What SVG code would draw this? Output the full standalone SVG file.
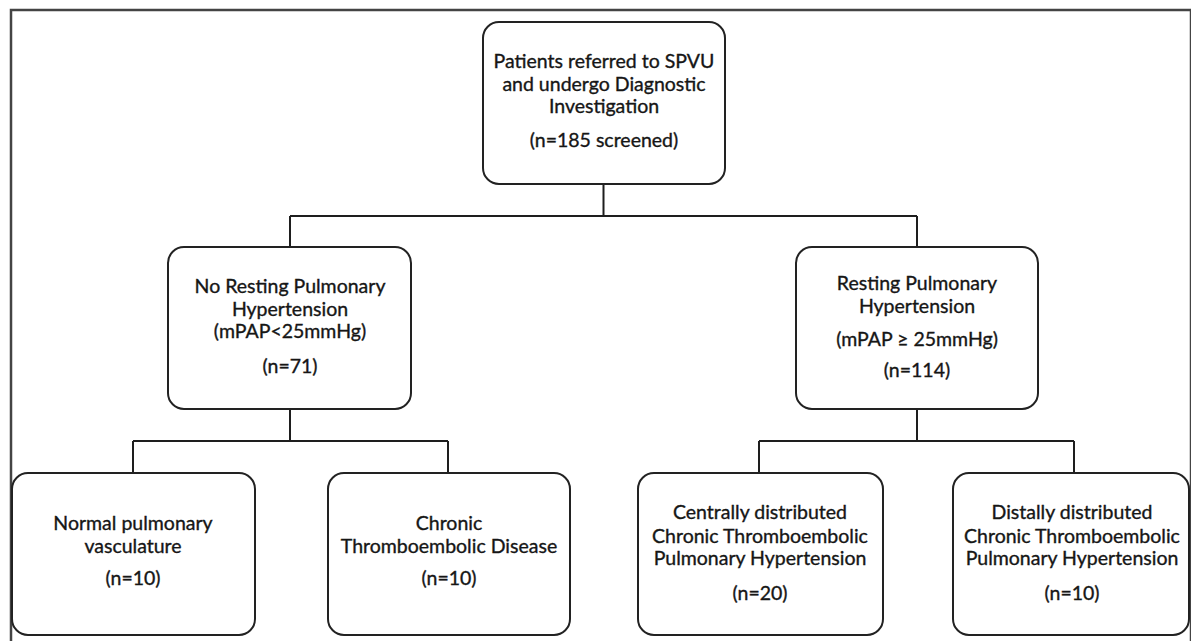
<svg xmlns="http://www.w3.org/2000/svg" width="1191" height="641" viewBox="0 0 1191 641">
  <style>
    .box { fill: #ffffff; stroke: #222222; stroke-width: 2; }
    .conn { fill: none; stroke: #1e1e1e; stroke-width: 2; }
    .t { font-family: Lato, "Liberation Sans", sans-serif; font-size: 19.5px; fill: #161616; stroke: #161616; stroke-width: 0.35; text-anchor: middle; }
  </style>
  <rect x="0" y="0" width="1191" height="641" fill="#ffffff"/>
  <rect id="frame" x="11" y="10" width="1180" height="640" fill="none" stroke="#444444" stroke-width="2.5"/>

  <g id="connectors">
    <path class="conn" d="M603.5,184 V216 M290,216 H917 M290,216 V247 M917,216 V247"/>
    <path class="conn" d="M290,409 V441 M133,441 H448 M133,441 V473 M448,441 V473"/>
    <path class="conn" d="M917,409 V441 M759,441 H1074 M759,441 V473 M1074,441 V473"/>
  </g>

  <g id="n-top">
    <rect class="box" x="483" y="22" width="242" height="162" rx="16"/>
    <text class="t" x="604" y="68">Patients referred to SPVU</text>
    <text class="t" x="604" y="91">and undergo Diagnostic</text>
    <text class="t" x="604" y="113">Investigation</text>
    <text class="t" x="604" y="147">(n=185 screened)</text>
  </g>

  <g id="n-no-rest">
    <rect class="box" x="168" y="247" width="243" height="162" rx="16"/>
    <text class="t" x="290" y="293">No Resting Pulmonary</text>
    <text class="t" x="290" y="316">Hypertension</text>
    <text class="t" x="290" y="338">(mPAP&lt;25mmHg)</text>
    <text class="t" x="290" y="373">(n=71)</text>
  </g>

  <g id="n-rest">
    <rect class="box" x="796" y="247" width="242" height="162" rx="16"/>
    <text class="t" x="917" y="290">Resting Pulmonary</text>
    <text class="t" x="917" y="313">Hypertension</text>
    <text class="t" x="917" y="346">(mPAP ≥ 25mmHg)</text>
    <text class="t" x="917" y="377">(n=114)</text>
  </g>

  <g id="n-normal">
    <rect class="box" x="12" y="473" width="243" height="162" rx="16"/>
    <text class="t" x="133" y="530">Normal pulmonary</text>
    <text class="t" x="133" y="553">vasculature</text>
    <text class="t" x="133" y="585">(n=10)</text>
  </g>

  <g id="n-cted">
    <rect class="box" x="328" y="473" width="242" height="162" rx="16"/>
    <text class="t" x="449" y="530">Chronic</text>
    <text class="t" x="449" y="553">Thromboembolic Disease</text>
    <text class="t" x="449" y="585">(n=10)</text>
  </g>

  <g id="n-central">
    <rect class="box" x="638" y="473" width="245" height="162" rx="16"/>
    <text class="t" x="760" y="519">Centrally distributed</text>
    <text class="t" x="760" y="543">Chronic Thromboembolic</text>
    <text class="t" x="760" y="565">Pulmonary Hypertension</text>
    <text class="t" x="760" y="600">(n=20)</text>
  </g>

  <g id="n-distal">
    <rect class="box" x="953" y="473" width="236" height="162" rx="16"/>
    <text class="t" x="1072" y="519">Distally distributed</text>
    <text class="t" x="1072" y="543">Chronic Thromboembolic</text>
    <text class="t" x="1072" y="565">Pulmonary Hypertension</text>
    <text class="t" x="1072" y="600">(n=10)</text>
  </g>
</svg>
